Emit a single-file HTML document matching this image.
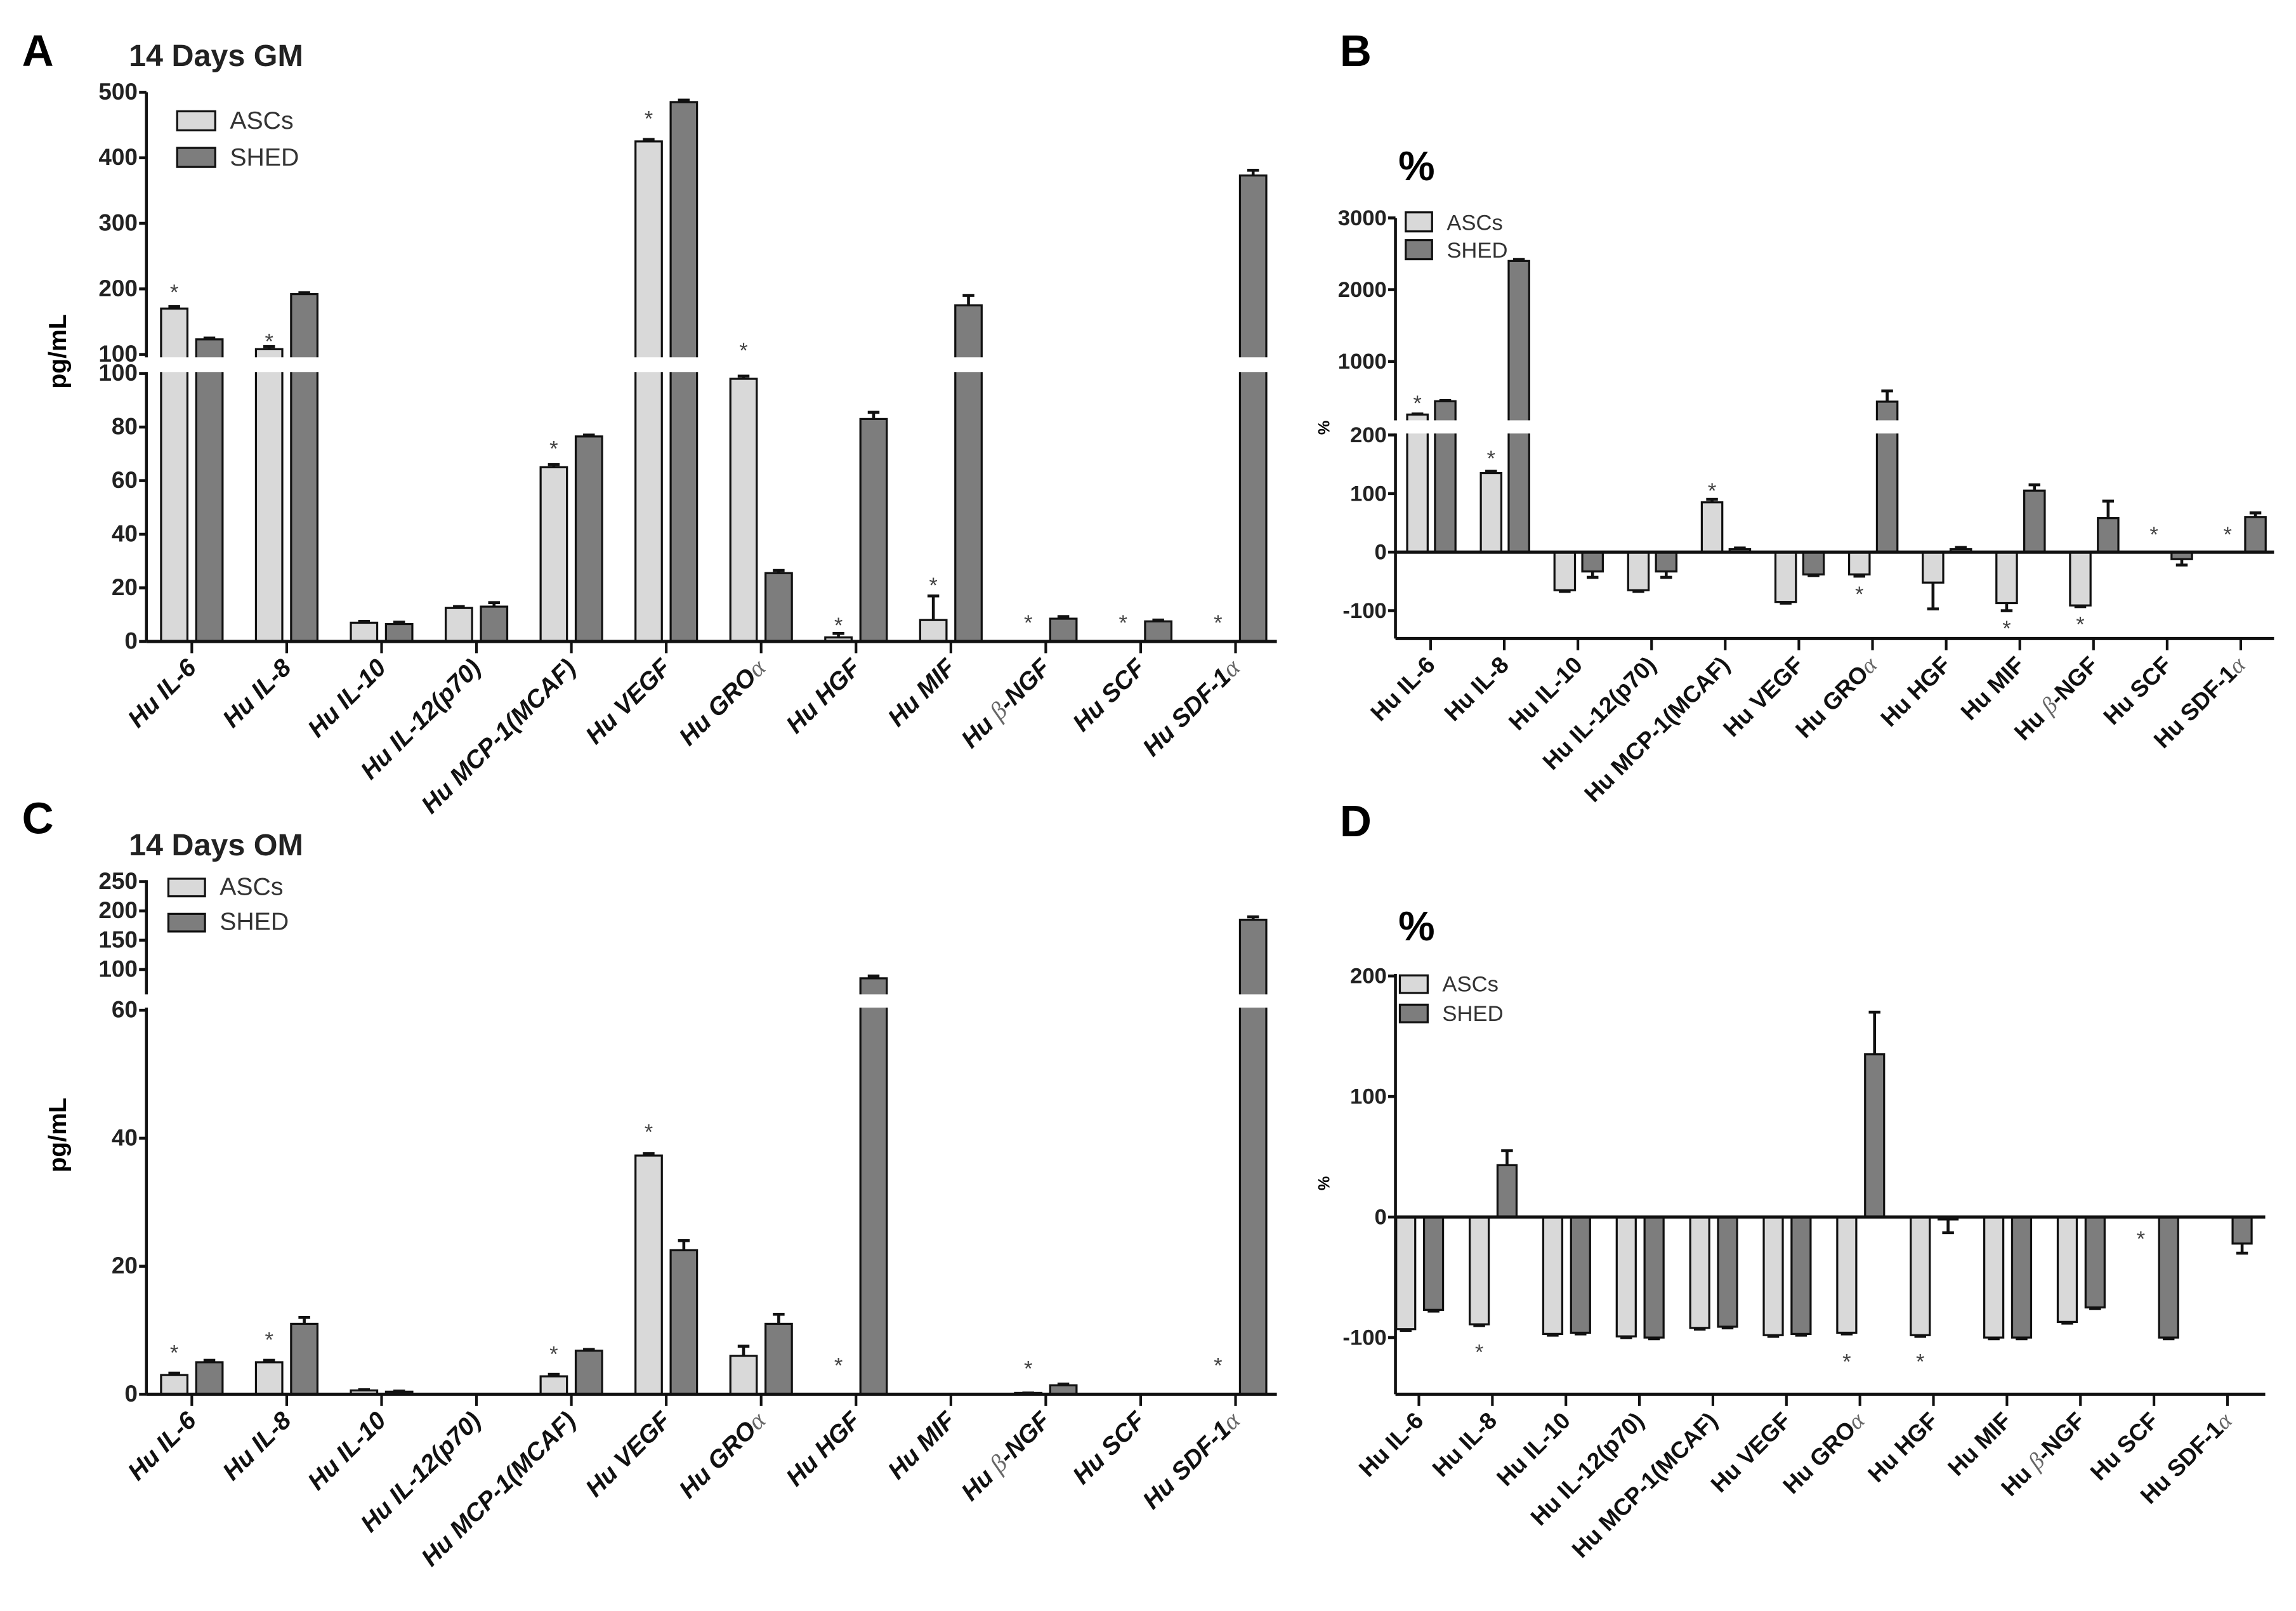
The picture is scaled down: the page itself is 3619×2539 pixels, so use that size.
<!DOCTYPE html>
<html><head><meta charset="utf-8">
<style>
html,body{margin:0;padding:0;background:#fff;}
svg{display:block;}
text{font-family:"Liberation Sans",Arial,sans-serif;}
</style></head>
<body>
<svg id="fig" width="3619" height="2539" viewBox="0 0 1568 1100" preserveAspectRatio="none" xmlns="http://www.w3.org/2000/svg">
<rect x="0" y="0" width="1568" height="1100" fill="#fff"/>
</svg>
<script>
const categories = ["Hu IL-6","Hu IL-8","Hu IL-10","Hu IL-12(p70)","Hu MCP-1(MCAF)","Hu VEGF","Hu GRO|α","Hu HGF","Hu MIF","Hu |β|-NGF","Hu SCF","Hu SDF-1|α"];

// Panel A: 14 Days GM (pg/mL)
const aAsc = [170,108,7,12.5,65,425,98,1.5,8,0,0,0];
const aShed = [123,192,6.5,13,76.5,485,25.5,83,175,8.5,7.5,373];
const aAscErr = [3,4,0.5,0.5,1,3,1,1.5,9,0,0,0];
const aShedErr = [2,2,0.7,1.5,0.5,3,1,2.5,15,0.8,0.5,8];
const aStarIdx = [0,1,4,5,6,7,8,9,10,11];
const aStarVal = [195,120,72,460,106,6,21,7,7,7];
const aTicks = [0,20,40,60,80,100,100,200,300,400,500];

// Panel B: % (GM)
const bAsc = [260,135,-65,-65,85,-85,-38,-52,-87,-91,0,0];
const bShed = [445,2400,-33,-33,5,-38,440,5,105,58,-12,60];
const bAscErr = [8,3,-2,-2,5,-2,-3,-45,-13,-2,0,0];
const bShedErr = [10,20,-10,-10,2,-2,150,3,10,29,-10,7];
const bStarIdx = [0,1,4,6,8,9,10,11];
const bStarVal = [420,160,105,-72,-130,-123,30,30];
const bTicks = [-100,0,100,200,1000,2000,3000];

// Panel C: 14 Days OM (pg/mL)
const cAsc = [3,5,0.6,0,2.8,37.3,6,0,0,0.2,0,0];
const cShed = [5,11,0.4,0,6.8,22.5,11,85,0,1.4,0,185];
const cAscErr = [0.3,0.3,0.1,0,0.3,0.3,1.5,0,0,0,0,0];
const cShedErr = [0.3,1,0.1,0,0.2,1.5,1.5,4,0,0.2,0,5];
const cStarIdx = [0,1,4,5,7,9,11];
const cStarVal = [6.5,8.5,6.3,41,4.5,4,4.5];
const cTicks = [0,20,40,60,100,150,200,250];

// Panel D: % (OM)
const dAsc = [-93,-89,-97,-99,-92,-98,-96,-98,-100,-87,0,0];
const dShed = [-77,43,-96,-100,-91,-97,135,-2,-100,-75,-100,-22];
const dAscErr = [-1,-1,-1,-1,-1,-1,-1,-1,-1,-1,0,0];
const dShedErr = [-1,12,-1,-1,-1,-1,35,-11,-1,-1,-1,-8];
const dStarIdx = [1,6,7,10];
const dStarVal = [-112,-120,-120,-18];
const dTicks = [-100,0,100,200];

const NS = "http://www.w3.org/2000/svg";
const svg = document.getElementById("fig");
function mk(tag, attrs, parent){
  const e = document.createElementNS(NS, tag);
  for (const k in attrs) e.setAttribute(k, attrs[k]);
  (parent||svg).appendChild(e);
  return e;
}
const LIGHT = "#d9d9d9", DARK = "#7d7d7d";

function panel(cfg){
  const g = mk("g", {});
  
  
  const y = cfg.y;
  const x = i => cfg.x0 + i*cfg.dx;
  const bw = cfg.bw;
  function bars(vals, errs, off, fill, nm){
    vals.forEach((v,i)=>{
      const cx = x(i)+off;
      const y0 = y(0), yv = y(v);
      if (v !== 0){
        const r = mk("rect", {x:cx-bw/2, y:Math.min(y0,yv), width:bw, height:Math.abs(yv-y0), fill:fill, stroke:"#111", "stroke-width":1.4}, g);
        
        
        const ye = y(v+errs[i]);
        const l = mk("path", {d:`M${cx},${yv}L${cx},${ye}M${cx-4},${ye}L${cx+4},${ye}`, stroke:"#111", "stroke-width":2, fill:"none"}, g);
        
        
      }
    });
  }
  bars(cfg.asc, cfg.ascErr, cfg.offA, LIGHT, "ascs");
  bars(cfg.shed, cfg.shedErr, cfg.offS, DARK, "shed");
  if (cfg.gap){
    mk("rect", {x:cfg.axX-6, y:cfg.gap[0], width:cfg.axR-cfg.axX+10, height:cfg.gap[1]-cfg.gap[0], fill:"#fff"}, g);
  }
  const segs = cfg.gap ? [[cfg.yTop, cfg.gap[0]],[cfg.gap[1], cfg.yBot]] : [[cfg.yTop, cfg.yBot]];
  segs.forEach(s=>{
    const a = mk("line", {x1:cfg.axX, y1:s[0], x2:cfg.axX, y2:s[1], stroke:"#111", "stroke-width":2}, g);
    
    
  });
  cfg.ticks.forEach((t,k)=>{
    let ty = y(t);
    if (cfg.tickPos && cfg.tickPos[k] !== undefined) ty = cfg.tickPos[k];
    mk("line", {x1:cfg.axX-5, y1:ty, x2:cfg.axX, y2:ty, stroke:"#111", "stroke-width":2}, g);
    const tl = mk("text", {x:cfg.axX-6, y:ty+5, "text-anchor":"end", "font-size":cfg.tfs, "font-weight":"bold", fill:"#222"}, g);
    tl.textContent = t;
    
    
  });
  const xa = mk("line", {x1:cfg.axX, y1:cfg.xAxisY, x2:cfg.axR, y2:cfg.xAxisY, stroke:"#111", "stroke-width":2.2}, g);
  
  
  if (cfg.bottomAxis){
    mk("line", {x1:cfg.axX, y1:cfg.yBot, x2:cfg.axR, y2:cfg.yBot, stroke:"#111", "stroke-width":2.2}, g);
  }
  const tickBase = cfg.bottomAxis ? cfg.yBot : cfg.xAxisY;
  categories.forEach((c,i)=>{
    mk("line", {x1:x(i), y1:tickBase, x2:x(i), y2:tickBase+8, stroke:"#111", "stroke-width":1.8}, g);
    const tx = x(i)+4, ty = tickBase+19;
    const t = mk("text", {x:tx, y:ty, "text-anchor":"end", "font-size":cfg.lfs, "font-weight":"bold", "font-style":cfg.italic?"italic":"normal", fill:"#111", transform:`rotate(-45 ${tx} ${ty})`}, g);
    
    
    c.split("|").forEach((p,j)=>{
      const s = mk("tspan", {}, t);
      if (p==="α"||p==="β"){ s.setAttribute("font-weight","normal"); s.setAttribute("fill","#666"); s.setAttribute("font-family","Liberation Serif, serif"); s.setAttribute("font-style","italic"); }
      s.textContent = p;
    });
  });
  cfg.starIdx.forEach((ci,k)=>{
    const s = mk("text", {x:x(ci)+cfg.offA, y:y(cfg.starVal[k])+5, "text-anchor":"middle", "font-size":15, fill:"#444"}, g);
    s.textContent = "*";
    
    
  });
  const L = cfg.leg;
  [["ASCs",LIGHT],["SHED",DARK]].forEach((e,k)=>{
    const ly = L.y + k*L.dy;
    const r = mk("rect", {x:L.x, y:ly, width:L.w, height:L.h, fill:e[1], stroke:"#111", "stroke-width":1.4}, g);
    
    
    const t = mk("text", {x:L.x+L.w+10, y:ly+L.h-1, "font-size":L.fs, fill:"#333"}, g);
    t.textContent = e[0];
    
    
  });
}

panel({name:"panel-a-chart", x0:131, dx:64.8, bw:18, offA:-12, offS:12,
  y: v => v<=100 ? 438 - v*1.83 : 242 - (v-100)*0.4475,
  asc:aAsc, shed:aShed, ascErr:aAscErr, shedErr:aShedErr,
  gap:[244,254], axX:100, axR:872, yTop:63, yBot:438, xAxisY:438,
  ticks:aTicks, tickPos:[undefined,undefined,undefined,undefined,undefined,255,242],
  tfs:16, lfs:17, italic:true, starIdx:aStarIdx, starVal:aStarVal,
  leg:{x:121,y:76,dy:25,w:26,h:13,fs:17}});
panel({name:"panel-b-chart", x0:977, dx:50.3, bw:14, offA:-9, offS:10,
  y: v => v<=200 ? 377 - v*0.4 : 286 - (v-200)*0.049,
  asc:bAsc, shed:bShed, ascErr:bAscErr, shedErr:bShedErr,
  gap:[287,296], axX:953, axR:1553, yTop:149, yBot:436, xAxisY:377, bottomAxis:true,
  ticks:bTicks, tickPos:[undefined,undefined,undefined,297],
  tfs:15, lfs:16, italic:false, starIdx:bStarIdx, starVal:bStarVal,
  leg:{x:960,y:145,dy:19,w:18,h:13,fs:15}});
panel({name:"panel-c-chart", x0:131, dx:64.8, bw:18, offA:-12, offS:12,
  y: v => v<=62.5 ? 952 - v*4.37 : 677 - (v-62.5)*0.4,
  asc:cAsc, shed:cShed, ascErr:cAscErr, shedErr:cShedErr,
  gap:[679,688], axX:100, axR:872, yTop:601, yBot:952, xAxisY:952,
  ticks:cTicks, tickPos:[],
  tfs:16, lfs:17, italic:true, starIdx:cStarIdx, starVal:cStarVal,
  leg:{x:115,y:600,dy:24,w:25,h:12,fs:17}});
panel({name:"panel-d-chart", x0:969, dx:50.2, bw:13, offA:-9, offS:10,
  y: v => 831 - v*0.823,
  asc:dAsc, shed:dShed, ascErr:dAscErr, shedErr:dShedErr,
  gap:null, axX:953, axR:1547, yTop:665, yBot:952, xAxisY:831, bottomAxis:true,
  ticks:dTicks, tickPos:[],
  tfs:15, lfs:16, italic:false, starIdx:dStarIdx, starVal:dStarVal,
  leg:{x:956,y:666,dy:20,w:19,h:12,fs:15}});

function txt(s, attrs, nm){
  const t = mk("text", attrs);
  t.textContent = s;
  
  
  return t;
}
txt("A", {x:15, y:45, "font-size":30, "font-weight":"bold"}, "panel-a-letter");
txt("B", {x:915, y:45, "font-size":30, "font-weight":"bold"}, "panel-b-letter");
txt("C", {x:15, y:569, "font-size":30, "font-weight":"bold"}, "panel-c-letter");
txt("D", {x:915, y:571, "font-size":30, "font-weight":"bold"}, "panel-d-letter");
txt("14 Days GM", {x:88, y:45, "font-size":21, "font-weight":"bold", fill:"#222"}, "panel-a-title");
txt("14 Days OM", {x:88, y:584, "font-size":21, "font-weight":"bold", fill:"#222"}, "panel-c-title");
txt("%", {x:955, y:123, "font-size":28, "font-weight":"bold"}, "panel-b-title");
txt("%", {x:955, y:642, "font-size":28, "font-weight":"bold"}, "panel-d-title");
txt("pg/mL", {x:45, y:240, "font-size":17, "font-weight":"bold", "text-anchor":"middle", transform:"rotate(-90 45 240)"}, "panel-a-y-axis-title");
txt("pg/mL", {x:45, y:775, "font-size":17, "font-weight":"bold", "text-anchor":"middle", transform:"rotate(-90 45 775)"}, "panel-c-y-axis-title");
txt("%", {x:908, y:292, "font-size":11, "font-weight":"bold", "text-anchor":"middle", transform:"rotate(-90 908 292)"}, "panel-b-y-axis-title");
txt("%", {x:908, y:808, "font-size":11, "font-weight":"bold", "text-anchor":"middle", transform:"rotate(-90 908 808)"}, "panel-d-y-axis-title");
</script>
</body></html>
